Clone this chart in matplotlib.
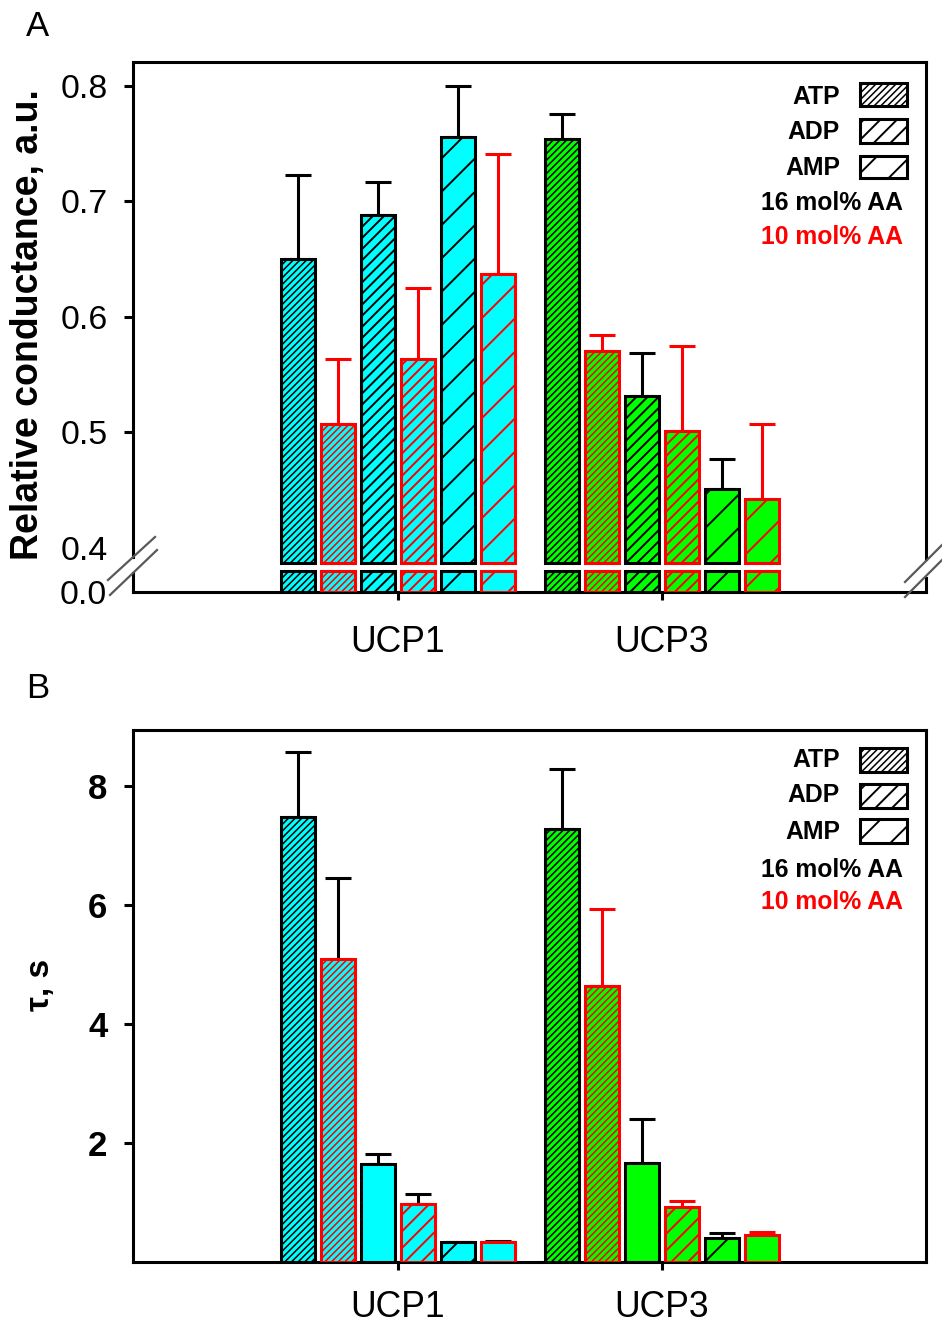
import numpy as np
import matplotlib
matplotlib.use('Agg')
import matplotlib.pyplot as plt
from matplotlib.patches import Rectangle
from matplotlib.lines import Line2D

plt.rcParams['font.family'] = ['Liberation Sans', 'DejaVu Sans']
plt.rcParams['hatch.linewidth'] = 0.7

# ---------------- data ----------------
categories = ['UCP1', 'UCP3']
conditions = ['ATP 16', 'ATP 10', 'ADP 16', 'ADP 10', 'AMP 16', 'AMP 10']
legend_labels = ['ATP', 'ADP', 'AMP']
aa_labels = ['16 mol% AA', '10 mol% AA']

a_ucp1_mean = [0.650, 0.507, 0.688, 0.563, 0.756, 0.637]
a_ucp1_err = [0.073, 0.056, 0.029, 0.062, 0.044, 0.104]
a_ucp3_mean = [0.754, 0.570, 0.531, 0.501, 0.451, 0.442]
a_ucp3_err = [0.022, 0.014, 0.038, 0.074, 0.026, 0.065]

b_ucp1_mean = [7.48, 5.09, 1.65, 0.97, 0.34, 0.34]
b_ucp1_err = [1.09, 1.36, 0.17, 0.17, 0.0, 0.005]
b_ucp3_mean = [7.27, 4.64, 1.66, 0.92, 0.40, 0.45]
b_ucp3_err = [1.01, 1.30, 0.74, 0.11, 0.09, 0.05]

a_yticks = [0.4, 0.5, 0.6, 0.7, 0.8]
a_ytick_labels = ['0.4', '0.5', '0.6', '0.7', '0.8']
a_low_yticks = [0.0]
a_low_ytick_labels = ['0.0']
b_yticks = [2, 4, 6, 8]
b_ytick_labels = ['2', '4', '6', '8']

# ---------------- style ----------------
W, H = 942, 1327
DPI = 200
fills = ['#00FFFF', '#00FF00']
edges = ['black', 'red', 'black', 'red', 'black', 'red']
DENSE = '/' * 10
MED = '/' * 6
MED_B = '/' * 4
SPARSE = '//'
hatch_a = [DENSE, DENSE, MED, MED, SPARSE, SPARSE]
hatch_b = [DENSE, DENSE, '', MED_B, SPARSE, '']
ecol_a = [edges, edges]
ecol_b = [['black'] * 6, ['black', 'red', 'black', 'red', 'black', 'red']]
pitch = 40 / 264
width = 34 / 264
xlim = ((133 - 398) / 264, (926 - 398) / 264)
LW = 1.1


def thin_hatch(patch, h):
    if h == DENSE:
        try:
            patch.set_hatch_linewidth(0.55)
        except Exception:
            pass


def fx(x):
    return x / W


def fy(y):
    return 1 - y / H


fig = plt.figure(figsize=(W / DPI, H / DPI), dpi=DPI)


def add_axes_px(left, top, right, bottom):
    return fig.add_axes([fx(left), fy(bottom), fx(right) - fx(left), (bottom - top) / H])


def draw_bars(ax, means_list, errs_list, hatches, ecols, bottom=0.0, cap=None, with_err=True):
    for ci in range(len(categories)):
        means = np.asarray(means_list[ci], dtype=float)
        errs = np.asarray(errs_list[ci], dtype=float)
        x = ci + (np.arange(len(conditions)) - 2.5) * pitch
        tops = means if cap is None else np.minimum(means, cap)
        for k in range(len(conditions)):
            bc = ax.bar(x[k], tops[k] - bottom, width, bottom=bottom, color=fills[ci],
                        edgecolor=edges[k], hatch=hatches[k], linewidth=LW, zorder=3)
            for p in bc:
                thin_hatch(p, hatches[k])
            if with_err:
                ax.errorbar(x[k], means[k], yerr=[[0], [errs[k]]], fmt='none',
                            ecolor=ecols[ci][k], elinewidth=LW, capsize=4.7,
                            capthick=LW, zorder=2)


# ---------------- Panel A upper ----------------
axA = add_axes_px(133, 62, 926, 566)
a_top = 0.8 + 24 / 1154
a_bot = 0.8 - 480 / 1154
axA.set_xlim(*xlim)
axA.set_ylim(a_bot, a_top)
draw_bars(axA, [a_ucp1_mean, a_ucp3_mean], [a_ucp1_err, a_ucp3_err], hatch_a, ecol_a,
          bottom=0.8 - 477 / 1154)
axA.spines['bottom'].set_visible(False)
for s in ['left', 'right', 'top']:
    axA.spines[s].set_linewidth(LW)
axA.spines['left'].set_bounds(0.392, a_top)
axA.spines['right'].set_bounds(0.390, a_top)
axA.set_xticks([])
axA.set_yticks(a_yticks)
axA.set_yticklabels(a_ytick_labels)
axA.tick_params(axis='y', direction='out', length=3.2, width=LW, pad=6, labelsize=12.2)
axA.yaxis.get_major_ticks()[0].tick1line.set_visible(False)

# ---------------- Panel A lower ----------------
axAl = add_axes_px(133, 568, 926, 592)
low_top = 0.46
axAl.set_xlim(*xlim)
axAl.set_ylim(0, low_top)
draw_bars(axAl, [a_ucp1_mean, a_ucp3_mean], [a_ucp1_err, a_ucp3_err], hatch_a, ecol_a,
          bottom=0.0, cap=0.40, with_err=False)
axAl.spines['top'].set_visible(False)
for s in ['left', 'right', 'bottom']:
    axAl.spines[s].set_linewidth(LW)
axAl.spines['left'].set_bounds(0, 0.364)
axAl.spines['right'].set_bounds(0, 0.268)
axAl.set_yticks(a_low_yticks)
axAl.set_yticklabels(a_low_ytick_labels)
axAl.tick_params(axis='y', length=0, pad=9.4, labelsize=12.2)
axAl.set_xticks(range(len(categories)))
axAl.set_xticklabels(categories)
axAl.tick_params(axis='x', direction='out', length=3, width=LW, pad=9, labelsize=12.8)

# break marks
for (x1, y1, x2, y2) in [(108, 580, 155, 537), (110, 595, 157, 550),
                         (905, 582, 942, 545), (905, 597, 942, 560)]:
    fig.add_artist(Line2D([fx(x1), fx(x2)], [fy(y1), fy(y2)], transform=fig.transFigure,
                          color='0.35', lw=0.8))

# ---------------- Panel B ----------------
axB = add_axes_px(133, 730, 926, 1262)
axB.set_xlim(*xlim)
axB.set_ylim(0, 8 + 56 / 59.5)
draw_bars(axB, [b_ucp1_mean, b_ucp3_mean], [b_ucp1_err, b_ucp3_err], hatch_b, ecol_b)
for s in axB.spines.values():
    s.set_linewidth(LW)
axB.set_yticks(b_yticks)
axB.set_yticklabels(b_ytick_labels, fontweight='bold')
axB.tick_params(axis='y', direction='out', length=3.2, width=LW, pad=6, labelsize=12.5)
axB.set_xticks(range(len(categories)))
axB.set_xticklabels(categories)
axB.tick_params(axis='x', direction='out', length=3, width=LW, pad=7, labelsize=12.8)

# ---------------- labels ----------------
fig.text(fx(38), fy(27), 'A', fontsize=12.5, ha='center', va='center')
fig.text(fx(38), fy(688), 'B', fontsize=12.5, ha='center', va='center')
fig.text(fx(28), fy(325), 'Relative conductance, a.u.', rotation=90, fontsize=13.5,
         fontweight='bold', ha='center', va='center')
fig.text(fx(40), fy(985), 'τ, s', rotation=90, fontsize=12, fontweight='bold',
         ha='center', va='center')

# ---------------- legends ----------------
swatch_hatch = [DENSE, MED_B, SPARSE]


def legend(text_ys, box_ys, aa_ys):
    for lab, ty, (b0, b1), h in zip(legend_labels, text_ys, box_ys, swatch_hatch):
        fig.text(fx(840), fy(ty), lab, fontsize=8.9, fontweight='bold', ha='right', va='center')
        r = Rectangle((fx(860), fy(b1)), (907 - 860) / W, (b1 - b0) / H,
                      transform=fig.transFigure, facecolor='white',
                      edgecolor='black', hatch=h, lw=LW)
        thin_hatch(r, h)
        fig.add_artist(r)
    for lab, ty, c in zip(aa_labels, aa_ys, ['black', 'red']):
        fig.text(fx(903), fy(ty), lab, fontsize=8.9, fontweight='bold', ha='right',
                 va='center', color=c)


legend([97, 132, 168], [(83, 106), (119, 143), (156, 178)], [203, 237])
legend([760, 795, 832], [(748, 772), (784, 808), (819, 843)], [870, 902])

fig.savefig('out.png', dpi=DPI)
